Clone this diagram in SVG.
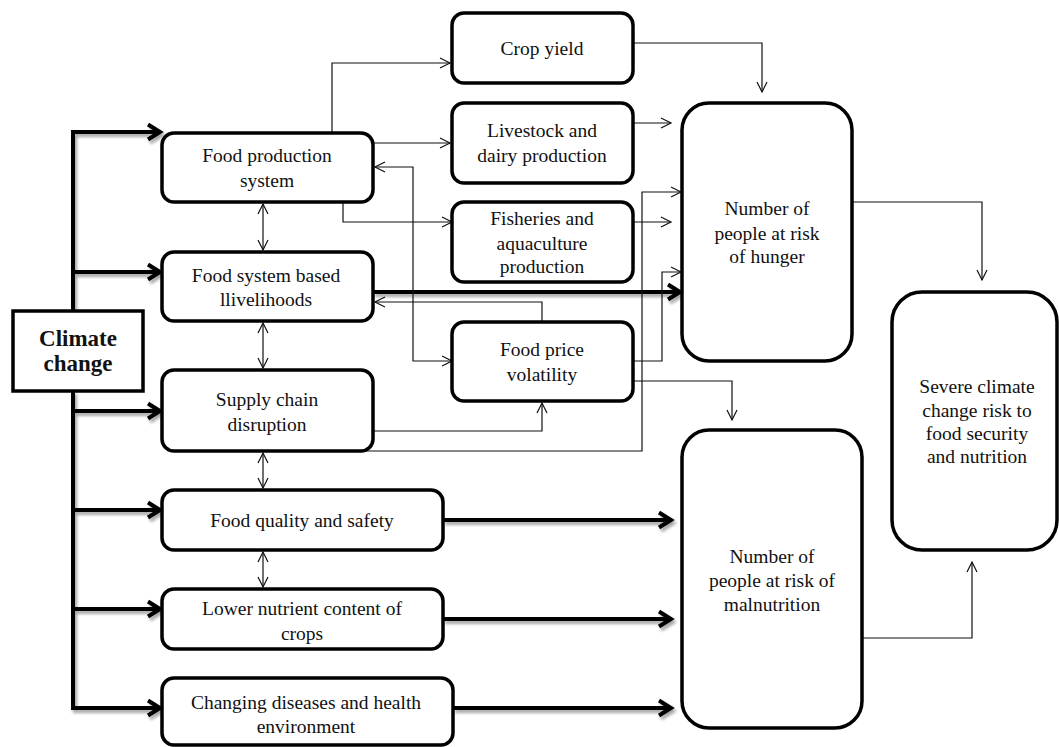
<svg xmlns="http://www.w3.org/2000/svg" width="1059" height="747" viewBox="0 0 1059 747">
<style>
.box{fill:#fff;stroke:#000;stroke-width:3.5}
.t{font-family:"Liberation Serif","Times New Roman",serif;font-size:19.5px;fill:#111;text-anchor:middle}
.b{font-weight:bold;font-size:23px}
.thin{fill:none;stroke:#111;stroke-width:1.2}
.thick{fill:none;stroke:#000;stroke-width:4}
</style>
<defs>
<marker id="a" markerUnits="userSpaceOnUse" markerWidth="12" markerHeight="12" refX="10" refY="5" orient="auto-start-reverse" overflow="visible">
<path d="M0,0 L10,5 L0,10" fill="none" stroke="#111" stroke-width="1.2"/>
</marker>
<marker id="A" markerUnits="userSpaceOnUse" markerWidth="20" markerHeight="20" refX="14" refY="9" orient="auto" overflow="visible">
<path d="M2,1.5 L14,9 L2,16.5" fill="none" stroke="#000" stroke-width="4" stroke-linejoin="miter"/>
</marker>
<filter id="sh" x="-10%" y="-10%" width="120%" height="130%">
<feDropShadow dx="2" dy="3" stdDeviation="1.5" flood-color="#000" flood-opacity="0.35"/>
</filter>
</defs>
<rect width="1059" height="747" fill="#fff"/>
<g id="connectors">
<g filter="url(#sh)">
<path class="thick" d="M73,311 V132" />
<path class="thick" d="M73,391 V708" />
<path class="thick" d="M71,132 H160" marker-end="url(#A)"/>
<path class="thick" d="M73,272 H160" marker-end="url(#A)"/>
<path class="thick" d="M73,411 H160" marker-end="url(#A)"/>
<path class="thick" d="M73,510 H160" marker-end="url(#A)"/>
<path class="thick" d="M73,609 H160" marker-end="url(#A)"/>
<path class="thick" d="M71,708 H160" marker-end="url(#A)"/>
<path class="thick" d="M373,292 H680" marker-end="url(#A)"/>
<path class="thick" d="M443,520 H671" marker-end="url(#A)"/>
<path class="thick" d="M443,619 H671" marker-end="url(#A)"/>
<path class="thick" d="M453,708 H671" marker-end="url(#A)"/>
</g>
<path class="thin" d="M332,133 V63 H450" marker-end="url(#a)"/>
<path class="thin" d="M373,143 H450" marker-end="url(#a)"/>
<path class="thin" d="M343,202 V222 H452" marker-end="url(#a)"/>
<path class="thin" d="M375,167 H413 V361 H452" marker-start="url(#a)" marker-end="url(#a)"/>
<path class="thin" d="M542,322 V302 H375" marker-end="url(#a)"/>
<path class="thin" d="M373,431 H542 V403" marker-end="url(#a)"/>
<path class="thin" d="M365,451 H642 V192 H681" marker-end="url(#a)"/>
<path class="thin" d="M633,361 H662 V272 H681" marker-end="url(#a)"/>
<path class="thin" d="M633,381 H732 V420" marker-end="url(#a)"/>
<path class="thin" d="M633,43 H762 V92" marker-end="url(#a)"/>
<path class="thin" d="M633,123 H671" marker-end="url(#a)"/>
<path class="thin" d="M633,222 H671" marker-end="url(#a)"/>
<path class="thin" d="M852,202 H982 V280" marker-end="url(#a)"/>
<path class="thin" d="M862,638 H972 V562" marker-end="url(#a)"/>
<path class="thin" d="M263,204 V250" marker-start="url(#a)" marker-end="url(#a)"/>
<path class="thin" d="M263,323 V368" marker-start="url(#a)" marker-end="url(#a)"/>
<path class="thin" d="M263,453 V488" marker-start="url(#a)" marker-end="url(#a)"/>
<path class="thin" d="M263,552 V587" marker-start="url(#a)" marker-end="url(#a)"/>
</g>
<g id="climate">
<rect x="13" y="311" width="130" height="80" fill="#fff" stroke="#000" stroke-width="3.5"/>
<text class="t b" x="78" y="346">Climate</text>
<text class="t b" x="78" y="371">change</text>
</g>
<g id="food-production">
<rect class="box" x="162" y="133" width="211" height="69" rx="12"/>
<text class="t" x="267" y="162">Food production</text>
<text class="t" x="267" y="187">system</text>
</g>
<g id="livelihoods">
<rect class="box" x="162" y="252" width="211" height="69" rx="12"/>
<text class="t" x="266" y="282">Food system based</text>
<text class="t" x="266" y="306">llivelihoods</text>
</g>
<g id="supply-chain">
<rect class="box" x="162" y="370" width="211" height="81" rx="12"/>
<text class="t" x="267" y="406">Supply chain</text>
<text class="t" x="267" y="431">disruption</text>
</g>
<g id="quality">
<rect class="box" x="162" y="490" width="281" height="60" rx="12"/>
<text class="t" x="302" y="527">Food quality and  safety</text>
</g>
<g id="nutrient">
<rect class="box" x="162" y="589" width="281" height="60" rx="12"/>
<text class="t" x="302" y="615">Lower nutrient content of</text>
<text class="t" x="302" y="640">crops</text>
</g>
<g id="diseases">
<rect class="box" x="162" y="678" width="291" height="67" rx="12"/>
<text class="t" x="306" y="709">Changing diseases and health</text>
<text class="t" x="306" y="733">environment</text>
</g>
<g id="crop-yield">
<rect class="box" x="452" y="13" width="181" height="70" rx="12"/>
<text class="t" x="542" y="55">Crop yield</text>
</g>
<g id="livestock">
<rect class="box" x="452" y="103" width="181" height="80" rx="12"/>
<text class="t" x="542" y="137">Livestock and</text>
<text class="t" x="542" y="162">dairy production</text>
</g>
<g id="fisheries">
<rect class="box" x="452" y="202" width="181" height="80" rx="12"/>
<text class="t" x="542" y="225">Fisheries and</text>
<text class="t" x="542" y="250">aquaculture</text>
<text class="t" x="542" y="273">production</text>
</g>
<g id="price">
<rect class="box" x="452" y="322" width="181" height="79" rx="12"/>
<text class="t" x="542" y="356">Food price</text>
<text class="t" x="542" y="381">volatility</text>
</g>
<g id="hunger">
<rect class="box" x="682" y="103" width="170" height="258" rx="27"/>
<text class="t" x="767" y="215">Number of</text>
<text class="t" x="767" y="240">people at risk</text>
<text class="t" x="767" y="263">of hunger</text>
</g>
<g id="malnutrition">
<rect class="box" x="682" y="430" width="180" height="298" rx="27"/>
<text class="t" x="772" y="563">Number of</text>
<text class="t" x="772" y="587">people at risk of</text>
<text class="t" x="772" y="611">malnutrition</text>
</g>
<g id="severe">
<rect class="box" x="892" y="292" width="165" height="258" rx="30"/>
<text class="t" x="977" y="393">Severe climate</text>
<text class="t" x="977" y="417">change risk to</text>
<text class="t" x="977" y="440">food security</text>
<text class="t" x="977" y="463">and nutrition</text>
</g>
</svg>
